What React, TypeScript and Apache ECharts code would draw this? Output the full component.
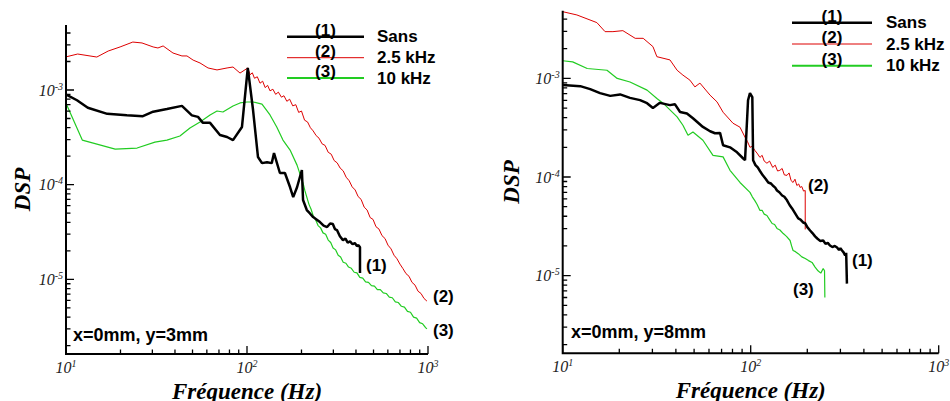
import React, { useEffect, useRef } from "react";
import * as echarts from "echarts";

// ---------- data (frequency Hz, DSP) ----------
const FREQ_MAJOR = [10, 100, 1000];
const FREQ_MINOR = [20, 30, 40, 50, 60, 70, 80, 90, 200, 300, 400, 500, 600, 700, 800, 900];
const DSP_MAJOR = [1e-5, 1e-4, 1e-3];
const DSP_MINOR = [
  2e-6, 3e-6, 4e-6, 5e-6, 6e-6, 7e-6, 8e-6, 9e-6,
  2e-5, 3e-5, 4e-5, 5e-5, 6e-5, 7e-5, 8e-5, 9e-5,
  2e-4, 3e-4, 4e-4, 5e-4, 6e-4, 7e-4, 8e-4, 9e-4,
  2e-3, 3e-3, 4e-3,
];
const FREQ_RANGE = [10, 1000];
const DSP_RANGE = [1.63e-6, 4.86e-3];

const SERIES_NAMES = ["Sans", "2.5 kHz", "10 kHz"];
const SERIES_TAGS = ["(1)", "(2)", "(3)"];

// left panel: x=0mm, y=3mm
const leftSans = [
  [10.1, 8.9e-4], [11.5, 7.8e-4], [13.2, 6.5e-4], [16.9, 5.6e-4], [21.7, 5.4e-4], [26.6, 5.3e-4],
  [30.3, 5.9e-4], [36.1, 6.3e-4], [43.7, 6.8e-4], [49.6, 5.4e-4], [53.6, 5.2e-4], [57.1, 4.5e-4],
  [62.5, 4.5e-4], [70.9, 3.35e-4], [77.6, 3.19e-4], [83.7, 2.96e-4], [93.8, 4.07e-4], [101, 1.71e-3],
  [108, 6.15e-4], [115, 1.96e-4], [121, 1.69e-4], [129, 1.73e-4], [137, 1.69e-4], [141, 2.16e-4],
  [152, 1.33e-4], [162, 1.33e-4], [173, 9.4e-5], [180, 7.4e-5], [189, 9.4e-5], [201, 1.43e-4],
  [204, 6.9e-5], [214, 5.4e-5], [222, 5.0e-5], [232, 4.55e-5], [242, 4.3e-5], [253, 4.03e-5],
  [265, 3.7e-5], [277, 3.57e-5], [288, 3.9e-5], [298, 3.84e-5], [306, 3.4e-5], [314, 3.32e-5],
  [326, 2.85e-5], [339, 2.6e-5], [350, 2.7e-5], [360, 2.45e-5], [371, 2.52e-5], [383, 2.35e-5],
  [394, 2.42e-5], [405, 2.25e-5], [413, 2.3e-5], [421, 2.19e-5], [421, 1.17e-5],
];
const left25 = [
  [10.1, 2.25e-3], [11.6, 2.4e-3], [14.8, 2.23e-3], [17.1, 2.58e-3], [19.9, 2.85e-3], [23.4, 3.21e-3],
  [26.3, 3.14e-3], [30.3, 2.85e-3], [32.2, 2.78e-3], [34.4, 2.92e-3], [39.0, 2.46e-3], [43.7, 2.29e-3],
  [46.6, 2.29e-3], [50.4, 2.07e-3], [55.0, 1.93e-3], [60.9, 1.71e-3], [68.3, 1.63e-3], [77.6, 1.71e-3],
  [83.7, 1.75e-3], [91.5, 1.51e-3], [101, 1.71e-3], [104, 1.45e-3], [107, 1.52e-3], [110, 1.33e-3],
  [114, 1.38e-3], [118, 1.18e-3], [122, 1.24e-3], [126, 1.06e-3], [130, 1.12e-3], [134, 9.8e-4],
  [139, 1.02e-3], [144, 9.0e-4], [149, 9.5e-4], [155, 8.4e-4], [160, 8.7e-4], [166, 7.6e-4],
  [172, 8.0e-4], [179, 6.8e-4], [186, 7.0e-4], [193, 5.8e-4], [200, 6.0e-4], [208, 4.8e-4],
  [216, 4.6e-4], [224, 4.0e-4], [232, 3.7e-4], [241, 3.3e-4], [250, 3.1e-4], [260, 2.7e-4],
  [270, 2.6e-4], [281, 2.2e-4], [292, 2.1e-4], [303, 1.8e-4], [315, 1.7e-4], [327, 1.5e-4],
  [340, 1.4e-4], [353, 1.2e-4], [367, 1.1e-4], [381, 9.5e-5], [396, 8.8e-5], [411, 7.5e-5],
  [427, 7.0e-5], [444, 5.8e-5], [461, 5.4e-5], [479, 4.5e-5], [497, 4.3e-5], [516, 3.6e-5],
  [536, 3.4e-5], [557, 2.9e-5], [579, 2.7e-5], [601, 2.3e-5], [625, 2.1e-5], [649, 1.8e-5],
  [674, 1.65e-5], [700, 1.45e-5], [727, 1.3e-5], [756, 1.15e-5], [785, 1.08e-5], [816, 9.3e-6],
  [848, 8.7e-6], [881, 7.5e-6], [915, 7.1e-6], [950, 6.3e-6], [986, 5.9e-6],
];
const left10 = [
  [10.1, 6.95e-4], [12.3, 2.96e-4], [18.7, 2.38e-4], [24.7, 2.44e-4], [31.0, 2.82e-4], [36.1, 2.96e-4],
  [42.6, 3.27e-4], [48.4, 3.97e-4], [55.0, 4.6e-4], [62.5, 5.45e-4], [68.3, 6.0e-4], [73.6, 5.86e-4],
  [83.7, 6.78e-4], [91.5, 7.3e-4], [100, 7.47e-4], [108, 7.47e-4], [121, 7.1e-4], [134, 5.45e-4],
  [146, 4.07e-4], [158, 2.96e-4], [173, 2.32e-4], [189, 1.61e-4], [204, 1.04e-4], [209, 8.6e-5],
  [214, 7.4e-5], [220, 6.2e-5], [226, 5.5e-5], [232, 4.7e-5], [239, 4.3e-5], [247, 3.7e-5],
  [255, 3.5e-5], [263, 3.1e-5], [272, 3.0e-5], [281, 2.6e-5], [290, 2.45e-5], [299, 2.15e-5],
  [309, 2.05e-5], [319, 1.8e-5], [329, 1.72e-5], [340, 1.52e-5], [352, 1.48e-5], [364, 1.35e-5],
  [377, 1.31e-5], [391, 1.19e-5], [405, 1.17e-5], [420, 1.05e-5], [436, 1.03e-5], [452, 9.4e-6],
  [469, 9.3e-6], [487, 8.6e-6], [506, 8.5e-6], [525, 7.8e-6], [545, 7.8e-6], [566, 7.2e-6],
  [588, 7.1e-6], [611, 6.5e-6], [635, 6.4e-6], [660, 5.8e-6], [686, 5.7e-6], [713, 5.2e-6],
  [741, 5.1e-6], [770, 4.6e-6], [800, 4.5e-6], [832, 4.0e-6], [865, 3.9e-6], [899, 3.5e-6],
  [934, 3.4e-6], [970, 3.1e-6], [986, 3.0e-6],
];

// right panel: x=0mm, y=8mm
const rightSans = [
  [10, 8.55e-4], [12.4, 8.35e-4], [14.0, 7.79e-4], [15.8, 7.09e-4], [17.9, 6.65e-4], [20.2, 6.88e-4],
  [22.8, 6.35e-4], [25.8, 6.02e-4], [28.1, 5.61e-4], [30.2, 5.02e-4], [32.9, 5.65e-4], [37.2, 5.36e-4],
  [39.5, 5.48e-4], [42.1, 4.57e-4], [45.8, 4.41e-4], [49.3, 3.94e-4], [55.7, 3.22e-4], [60.8, 2.91e-4],
  [64.6, 2.78e-4], [68.7, 2.8e-4], [71.3, 2.1e-4], [77.6, 2.0e-4], [84.6, 1.78e-4], [91.0, 1.55e-4],
  [93.3, 1.48e-4], [96.8, 6.0e-4], [99.1, 7.1e-4], [102, 6.46e-4], [103, 1.48e-4], [106, 1.32e-4],
  [109, 1.25e-4], [112, 1.15e-4], [116, 1.04e-4], [120, 9.6e-5], [124, 8.8e-5], [128, 8.6e-5],
  [131, 8.2e-5], [135, 7.8e-5], [138, 7.3e-5], [142, 7.0e-5], [147, 6.5e-5], [151, 6.3e-5],
  [156, 5.8e-5], [161, 5.2e-5], [166, 4.8e-5], [172, 4.3e-5], [179, 3.8e-5], [184, 3.7e-5],
  [190, 3.46e-5], [195, 3.4e-5], [200, 3.1e-5], [207, 2.87e-5], [213, 2.7e-5], [220, 2.5e-5],
  [226, 2.38e-5], [234, 2.25e-5], [243, 2.27e-5], [250, 2.1e-5], [257, 2.15e-5], [264, 2.02e-5],
  [272, 1.95e-5], [280, 2.0e-5], [288, 1.93e-5], [295, 1.82e-5], [300, 1.9e-5], [306, 1.8e-5],
  [312, 1.72e-5], [318, 1.6e-5], [322, 1.7e-5], [325, 8.3e-6],
];
const right25 = [
  [10, 4.75e-3], [11.9, 4.4e-3], [15.2, 3.68e-3], [16.8, 2.98e-3], [18.5, 2.98e-3], [20.9, 3.05e-3],
  [24.3, 2.55e-3], [26.8, 2.55e-3], [30.2, 2.1e-3], [31.7, 1.66e-3], [37.2, 1.54e-3], [40.6, 1.21e-3],
  [43.6, 1.08e-3], [47.5, 9.6e-4], [50.5, 8.2e-4], [53.7, 8.96e-4], [60.8, 6.76e-4], [66.2, 5.78e-4],
  [71.3, 4.54e-4], [80.5, 3.51e-4], [87.7, 3.2e-4], [93.3, 2.53e-4], [96, 2.3e-4], [99.1, 2.0e-4],
  [102, 2.05e-4], [105, 1.87e-4], [108, 1.75e-4], [112, 1.58e-4], [115, 1.66e-4], [118, 1.45e-4],
  [122, 1.38e-4], [126, 1.45e-4], [131, 1.25e-4], [135, 1.32e-4], [139, 1.15e-4], [143, 1.17e-4],
  [147, 1.22e-4], [151, 1.05e-4], [156, 1.04e-4], [160, 1.1e-4], [164, 9.2e-5], [168, 8.8e-5],
  [172, 9.5e-5], [176, 8.2e-5], [180, 8.5e-5], [183, 7.85e-5], [187, 8.0e-5], [191, 7.2e-5],
  [195, 7.3e-5], [195, 2.94e-5],
];
const right10 = [
  [10, 1.51e-3], [11.3, 1.47e-3], [13.5, 1.26e-3], [17.2, 1.21e-3], [19.5, 1.0e-3], [22.8, 9.2e-4],
  [28.1, 7.6e-4], [31.7, 6.26e-4], [34.2, 5.61e-4], [40.6, 4.07e-4], [43.6, 3.35e-4], [46.4, 2.65e-4],
  [49.3, 2.86e-4], [55.7, 2.36e-4], [63.0, 1.66e-4], [71.3, 1.6e-4], [77.6, 1.17e-4], [87.7, 8.8e-5],
  [99.1, 6.98e-5], [102, 6.3e-5], [105, 5.8e-5], [108, 5.3e-5], [112, 4.58e-5], [115, 4.6e-5],
  [118, 4.2e-5], [122, 4.07e-5], [126, 3.7e-5], [130, 3.38e-5], [134, 3.3e-5], [138, 3.01e-5],
  [143, 2.9e-5], [149, 2.67e-5], [155, 2.5e-5], [162, 2.27e-5], [165, 2.0e-5], [168, 1.8e-5],
  [173, 1.75e-5], [179, 1.67e-5], [187, 1.55e-5], [195, 1.49e-5], [203, 1.42e-5], [212, 1.36e-5],
  [220, 1.22e-5], [228, 1.12e-5], [236, 1.06e-5], [243, 1.18e-5], [247, 1.12e-5], [248, 6.0e-6],
];

// ---------- layout & styles ----------
const GRIDS = [
  { left: 66, top: 25, width: 362, height: 329 },
  { left: 562.7, top: 10.7, width: 376, height: 342.6 },
];
const COLORS = ["#000000", "#dd0000", "#22cc22"];
const WIDTHS = [2.5, 1, 1.2];
const SERIF = "'Liberation Serif', 'Times New Roman', serif";
const SANS = "'Liberation Sans', Arial, sans-serif";

const labelFormatter = (v: number) => `{a|10}{b|${Math.round(Math.log10(v))}}`;
const labelRich = {
  a: { fontFamily: SERIF, fontStyle: "italic", fontSize: 16, color: "#222", lineHeight: 18 },
  b: { fontFamily: SERIF, fontStyle: "italic", fontSize: 10, color: "#222", verticalAlign: "top", lineHeight: 10 },
};

function makeAxis(gridIndex: number, dim: "x" | "y", nameGap: number) {
  const isX = dim === "x";
  const range = isX ? FREQ_RANGE : DSP_RANGE;
  const major = isX ? FREQ_MAJOR : DSP_MAJOR;
  return {
    type: "log",
    logBase: 10,
    gridIndex,
    min: range[0],
    max: range[1],
    position: isX ? "bottom" : "left",
    splitLine: { show: false },
    axisLine: { show: false },
    axisTick: { show: false },
    name: isX ? "Fréquence (Hz)" : "DSP",
    nameLocation: "middle",
    nameGap,
    nameTextStyle: { fontFamily: SERIF, fontStyle: "italic", fontWeight: "bold", fontSize: 23, color: "#000" },
    axisLabel: {
      show: true,
      customValues: major,
      margin: isX ? 4 : 3,
      formatter: labelFormatter,
      rich: labelRich,
    },
  };
}

function lineSeries(data: number[][], idx: number, axis: number) {
  return {
    type: "line",
    name: SERIES_NAMES[idx],
    data,
    xAxisIndex: axis,
    yAxisIndex: axis,
    showSymbol: false,
    symbol: "none",
    lineStyle: { color: COLORS[idx], width: WIDTHS[idx] },
    itemStyle: { color: COLORS[idx] },
    z: idx === 0 ? 3 : 2,
  };
}

// axis frame (left + bottom) drawn as a line series on the log axes themselves
function frameSeries(axis: number) {
  return {
    type: "line",
    xAxisIndex: axis,
    yAxisIndex: axis,
    data: [
      [FREQ_RANGE[0], DSP_RANGE[1]],
      [FREQ_RANGE[0], DSP_RANGE[0]],
      [FREQ_RANGE[1], DSP_RANGE[0]],
    ],
    showSymbol: false,
    symbol: "none",
    clip: false,
    silent: true,
    lineStyle: { color: "#000", width: 2, join: "miter" },
    z: 6,
  };
}

// inside ticks: tick length in pixels turned into a ratio along the other log axis
function tickSeries(axis: number) {
  const g = GRIDS[axis];
  const ly = Math.log10(DSP_RANGE[1]) - Math.log10(DSP_RANGE[0]);
  const lx = Math.log10(FREQ_RANGE[1]) - Math.log10(FREQ_RANGE[0]);
  const yUp = (len: number) => DSP_RANGE[0] * Math.pow(10, (len / g.height) * ly);
  const xIn = (len: number) => FREQ_RANGE[0] * Math.pow(10, (len / g.width) * lx);
  const data: any[] = [];
  const addX = (vals: number[], len: number) =>
    vals.forEach((v) => {
      data.push([v, DSP_RANGE[0]], [v, yUp(len)], ["-", "-"]);
    });
  const addY = (vals: number[], len: number) =>
    vals.forEach((v) => {
      data.push([FREQ_RANGE[0], v], [xIn(len), v], ["-", "-"]);
    });
  addX(FREQ_MAJOR, 8);
  addX(FREQ_MINOR, 4.5);
  addY(DSP_MAJOR, 8);
  addY(DSP_MINOR, 4.5);
  return {
    type: "line",
    xAxisIndex: axis,
    yAxisIndex: axis,
    data,
    connectNulls: false,
    showSymbol: false,
    symbol: "none",
    clip: false,
    silent: true,
    lineStyle: { color: "#000", width: 1.3 },
    z: 6,
  };
}

function legendGraphics(x0: number, x1: number, ys: number[], textX: number) {
  const els: any[] = [];
  ys.forEach((y, i) => {
    els.push({
      type: "line",
      shape: { x1: x0, y1: y, x2: x1, y2: y },
      style: { stroke: COLORS[i], lineWidth: i === 0 ? 2.5 : i === 1 ? 1 : 2 },
    });
    els.push({
      type: "text",
      x: (x0 + x1) / 2,
      y: y + 2,
      style: { text: SERIES_TAGS[i], font: `bold 17px ${SANS}`, fill: "#000", align: "center", verticalAlign: "bottom" },
    });
    els.push({
      type: "text",
      x: textX,
      y,
      style: { text: SERIES_NAMES[i], font: `bold 17px ${SANS}`, fill: "#000", align: "left", verticalAlign: "middle" },
    });
  });
  return els;
}

function tag(text: string, x: number, y: number) {
  return { type: "text", x, y, style: { text, font: `bold 17px ${SANS}`, fill: "#000", align: "left", verticalAlign: "middle" } };
}

export default function App() {
  const ref = useRef<HTMLDivElement>(null);
  useEffect(() => {
    document.body.style.margin = "0";
    if (!ref.current) return;
    const chart = echarts.init(ref.current, null, { renderer: "svg" });
    const option: any = {
      animation: false,
      backgroundColor: "#ffffff",
      grid: GRIDS.map((g) => ({ ...g, containLabel: false, outerBoundsMode: "none" })),
      xAxis: [makeAxis(0, "x", 13), makeAxis(1, "x", 13)],
      yAxis: [makeAxis(0, "y", 32), makeAxis(1, "y", 40)],
      series: [
        lineSeries(left25, 1, 0),
        lineSeries(left10, 2, 0),
        lineSeries(leftSans, 0, 0),
        lineSeries(right25, 1, 1),
        lineSeries(right10, 2, 1),
        lineSeries(rightSans, 0, 1),
        frameSeries(0),
        frameSeries(1),
        tickSeries(0),
        tickSeries(1),
      ],
      graphic: [
        ...legendGraphics(287, 364, [36.7, 57.7, 78], 377),
        ...legendGraphics(792, 872, [22.7, 44, 65.7], 886),
        tag(SERIES_TAGS[0], 366, 265),
        tag(SERIES_TAGS[1], 433, 296),
        tag(SERIES_TAGS[2], 433, 330),
        tag(SERIES_TAGS[0], 852, 260),
        tag(SERIES_TAGS[1], 808, 185),
        tag(SERIES_TAGS[2], 793, 289),
        { type: "text", x: 73, y: 335, style: { text: "x=0mm, y=3mm", font: `bold 18px ${SANS}`, fill: "#000", verticalAlign: "middle" } },
        { type: "text", x: 571, y: 332, style: { text: "x=0mm, y=8mm", font: `bold 18px ${SANS}`, fill: "#000", verticalAlign: "middle" } },
      ],
    };
    chart.setOption(option);
    return () => chart.dispose();
  }, []);
  return <div ref={ref} style={{ width: 950, height: 401 }} />;
}
